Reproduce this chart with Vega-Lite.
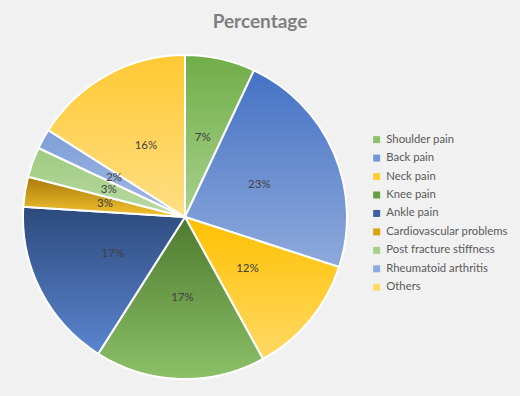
{
  "$schema": "https://vega.github.io/schema/vega-lite/v6.json",
  "width": 370,
  "height": 354,
  "autosize": {"type": "none"},
  "padding": {"left": 0, "top": 40, "right": 150, "bottom": 2},
  "background": "#f1f1f1",
  "title": {
    "text": "Percentage",
    "anchor": "middle",
    "dx": 75,
    "offset": 8,
    "font": "Lato",
    "fontSize": 19,
    "fontWeight": "bold",
    "color": "#7f7f7f"
  },
  "config": {"view": {"stroke": null}},
  "data": {
    "values": [
      {"i": 1, "category": "Shoulder pain", "value": 0.07},
      {"i": 2, "category": "Back pain", "value": 0.23},
      {"i": 3, "category": "Neck pain", "value": 0.12},
      {"i": 4, "category": "Knee pain", "value": 0.17},
      {"i": 5, "category": "Ankle pain", "value": 0.17},
      {"i": 6, "category": "Cardiovascular problems", "value": 0.03},
      {"i": 7, "category": "Post fracture stiffness", "value": 0.03},
      {"i": 8, "category": "Rheumatoid arthritis", "value": 0.02},
      {"i": 9, "category": "Others", "value": 0.16}
    ]
  },
  "encoding": {
    "theta": {"field": "value", "type": "quantitative", "stack": true},
    "order": {"field": "i", "type": "quantitative"}
  },
  "layer": [
    {
      "mark": {"type": "arc", "radius": 162},
      "encoding": {
        "color": {
          "field": "category",
          "type": "nominal",
          "scale": {
            "domain": ["Shoulder pain", "Back pain", "Neck pain", "Knee pain", "Ankle pain", "Cardiovascular problems", "Post fracture stiffness", "Rheumatoid arthritis", "Others"],
            "range": ["#8dc26a", "#7396d4", "#ffcc33", "#6a9e46", "#3f5f9f", "#d9a510", "#a8d08d", "#8faadc", "#ffd966"]
          },
          "legend": {
            "title": null,
            "orient": "none",
            "legendX": 371,
            "legendY": 94,
            "padding": 0,
            "symbolType": "square",
            "symbolSize": 49,
            "symbolStrokeWidth": 0,
            "labelFont": "Lato",
            "labelFontSize": 11.3,
            "labelColor": "#595959",
            "labelOffset": 4,
            "rowPadding": 6.45
          }
        }
      }
    },
    {
      "mark": {"type": "arc", "radius": 162, "stroke": "#ffffff", "strokeWidth": 2},
      "encoding": {
        "color": {
          "condition": [
            {"test": "datum.category === 'Shoulder pain'", "value": {"gradient": "linear", "x1": 0, "y1": 0, "x2": 0, "y2": 1, "stops": [{"offset": 0, "color": "#70ad47"}, {"offset": 1, "color": "#a9d18e"}]}},
            {"test": "datum.category === 'Back pain'", "value": {"gradient": "linear", "x1": 0, "y1": 0, "x2": 0, "y2": 1, "stops": [{"offset": 0, "color": "#4472c4"}, {"offset": 1, "color": "#8faadc"}]}},
            {"test": "datum.category === 'Neck pain'", "value": {"gradient": "linear", "x1": 0, "y1": 0, "x2": 0, "y2": 1, "stops": [{"offset": 0, "color": "#ffc000"}, {"offset": 1, "color": "#ffd966"}]}},
            {"test": "datum.category === 'Knee pain'", "value": {"gradient": "linear", "x1": 0, "y1": 0, "x2": 0, "y2": 1, "stops": [{"offset": 0, "color": "#4e7a2e"}, {"offset": 1, "color": "#8cc068"}]}},
            {"test": "datum.category === 'Ankle pain'", "value": {"gradient": "linear", "x1": 0, "y1": 0, "x2": 0, "y2": 1, "stops": [{"offset": 0, "color": "#2c4a7c"}, {"offset": 1, "color": "#5b85d0"}]}},
            {"test": "datum.category === 'Cardiovascular problems'", "value": {"gradient": "linear", "x1": 0, "y1": 0, "x2": 0, "y2": 1, "stops": [{"offset": 0, "color": "#a87a0a"}, {"offset": 1, "color": "#f5c330"}]}},
            {"test": "datum.category === 'Post fracture stiffness'", "value": {"gradient": "linear", "x1": 0, "y1": 0, "x2": 0, "y2": 1, "stops": [{"offset": 0, "color": "#9fcb80"}, {"offset": 1, "color": "#b8daa3"}]}},
            {"test": "datum.category === 'Rheumatoid arthritis'", "value": {"gradient": "linear", "x1": 0, "y1": 0, "x2": 0, "y2": 1, "stops": [{"offset": 0, "color": "#7f9fd8"}, {"offset": 1, "color": "#a2b8e3"}]}},
            {"test": "datum.category === 'Others'", "value": {"gradient": "linear", "x1": 0, "y1": 0, "x2": 0, "y2": 1, "stops": [{"offset": 0, "color": "#ffc933"}, {"offset": 1, "color": "#ffdf85"}]}}
          ],
          "value": "#cccccc"
        }
      }
    },
    {
      "mark": {"type": "text", "radius": 81, "font": "Lato", "fontSize": 11.5, "color": "#404040"},
      "encoding": {
        "text": {"field": "value", "type": "quantitative", "format": ".0%"}
      }
    }
  ]
}
